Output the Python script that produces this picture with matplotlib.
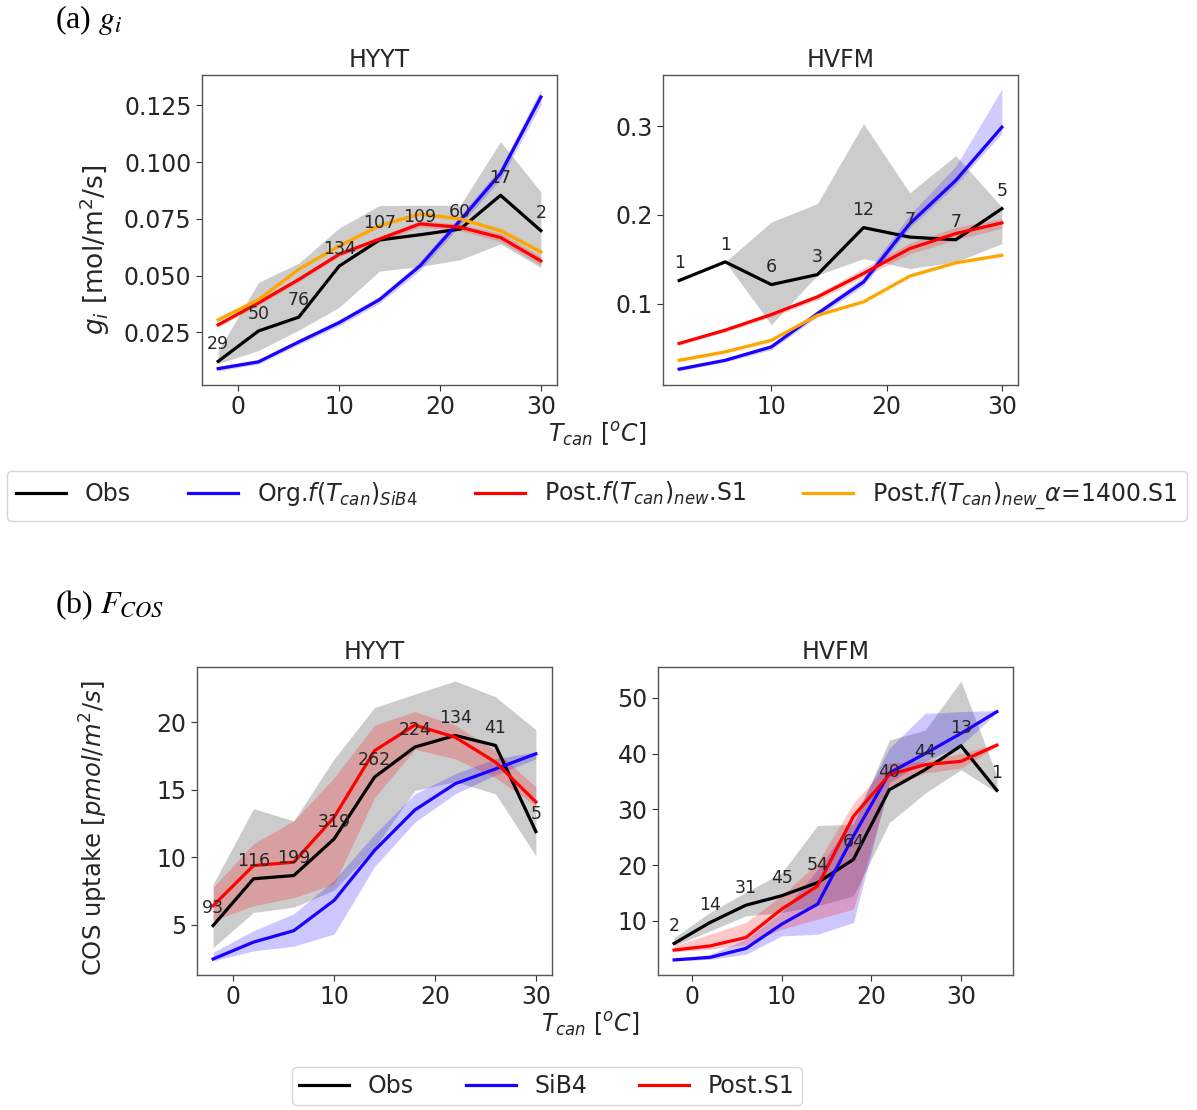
import numpy as np
import matplotlib
matplotlib.use("Agg")
import matplotlib.pyplot as plt
from matplotlib.ticker import FormatStrFormatter

nan = np.nan

# ---------------- (a) g_i ----------------
gi_hyyt_x = [-2, 2, 6, 10, 14, 18, 22, 26, 30]
gi_hyyt_obs = [0.0122, 0.0256, 0.0317, 0.0542, 0.0657, 0.0680, 0.0705, 0.0854, 0.0698]
gi_hyyt_obs_lo = [0.0112, 0.0170, 0.0260, 0.0360, 0.0520, 0.0540, 0.0570, 0.0640, 0.0535]
gi_hyyt_obs_hi = [0.0168, 0.0470, 0.0555, 0.0710, 0.0809, 0.0810, 0.0810, 0.1090, 0.0869]
gi_hyyt_org = [0.0090, 0.0120, 0.0208, 0.0293, 0.0394, 0.0542, 0.0743, 0.0950, 0.1287]
gi_hyyt_org_lo = [0.0080, 0.0110, 0.0196, 0.0279, 0.0378, 0.0522, 0.0721, 0.0925, 0.1252]
gi_hyyt_org_hi = [0.0100, 0.0130, 0.0220, 0.0307, 0.0410, 0.0562, 0.0765, 0.0975, 0.1322]
gi_hyyt_post = [0.0283, 0.0380, 0.0483, 0.0594, 0.0661, 0.0728, 0.0713, 0.0668, 0.0565]
gi_hyyt_post_lo = [0.0273, 0.0370, 0.0473, 0.0584, 0.0649, 0.0714, 0.0698, 0.0650, 0.0545]
gi_hyyt_post_hi = [0.0293, 0.0390, 0.0493, 0.0604, 0.0673, 0.0742, 0.0728, 0.0686, 0.0585]
gi_hyyt_alpha = [0.0305, 0.0394, 0.0528, 0.0631, 0.0720, 0.0772, 0.0750, 0.0698, 0.0605]
gi_hyyt_alpha_lo = [0.0297, 0.0386, 0.0520, 0.0623, 0.0711, 0.0762, 0.0740, 0.0687, 0.0593]
gi_hyyt_alpha_hi = [0.0313, 0.0402, 0.0536, 0.0639, 0.0729, 0.0782, 0.0760, 0.0709, 0.0617]
gi_hyyt_n = [29, 50, 76, 134, 107, 109, 60, 17, 2]

gi_hvfm_x = [2, 6, 10, 14, 18, 22, 26, 30]
gi_hvfm_obs = [0.126, 0.147, 0.1214, 0.1327, 0.1857, 0.175, 0.172, 0.2071]
gi_hvfm_obs_lo = [nan, 0.147, 0.0763, 0.132, 0.1508, 0.1395, 0.147, 0.1677]
gi_hvfm_obs_hi = [nan, 0.147, 0.192, 0.2128, 0.303, 0.225, 0.267, 0.209]
gi_hvfm_org = [0.026, 0.036, 0.0511, 0.0887, 0.1244, 0.190, 0.239, 0.299]
gi_hvfm_org_lo = [0.024, 0.034, 0.048, 0.085, 0.120, 0.185, 0.234, 0.292]
gi_hvfm_org_hi = [0.028, 0.038, 0.054, 0.092, 0.130, 0.200, 0.255, 0.342]
gi_hvfm_post = [0.055, 0.070, 0.0876, 0.1075, 0.134, 0.162, 0.179, 0.191]
gi_hvfm_post_lo = [0.053, 0.068, 0.085, 0.104, 0.130, 0.156, 0.172, 0.185]
gi_hvfm_post_hi = [0.057, 0.072, 0.090, 0.111, 0.140, 0.168, 0.186, 0.196]
gi_hvfm_alpha = [0.036, 0.0455, 0.0586, 0.0868, 0.102, 0.131, 0.146, 0.1545]
gi_hvfm_alpha_lo = [0.034, 0.0435, 0.0566, 0.0848, 0.100, 0.129, 0.144, 0.1525]
gi_hvfm_alpha_hi = [0.038, 0.0475, 0.0606, 0.0888, 0.104, 0.133, 0.148, 0.1565]
gi_hvfm_n = [1, 1, 6, 3, 12, 7, 7, 5]

# ---------------- (b) F_COS ----------------
cos_hyyt_x = [-2, 2, 6, 10, 14, 18, 22, 26, 30]
cos_hyyt_obs = [4.93, 8.40, 8.64, 11.36, 15.94, 18.17, 19.03, 18.29, 11.90]
cos_hyyt_obs_lo = [3.3, 5.9, 6.3, 7.55, 10.7, 14.95, 15.6, 14.7, 10.1]
cos_hyyt_obs_hi = [8.0, 13.6, 12.7, 17.3, 21.1, 22.1, 23.07, 21.9, 19.45]
cos_hyyt_sib4 = [2.45, 3.70, 4.55, 6.80, 10.5, 13.5, 15.45, 16.55, 17.67]
cos_hyyt_sib4_lo = [2.3, 3.05, 3.4, 4.3, 9.3, 12.6, 14.7, 16.1, 17.3]
cos_hyyt_sib4_hi = [2.95, 4.55, 5.8, 8.3, 11.7, 14.7, 16.2, 17.3, 17.8]
cos_hyyt_post = [6.40, 9.38, 9.63, 12.97, 17.9, 19.8, 18.9, 17.05, 14.1]
cos_hyyt_post_lo = [5.3, 6.4, 7.0, 8.0, 14.4, 18.0, 17.3, 15.9, 13.8]
cos_hyyt_post_hi = [7.77, 11.0, 12.7, 15.9, 19.8, 20.8, 19.8, 17.9, 15.2]
cos_hyyt_n = [93, 116, 199, 319, 262, 224, 134, 41, 5]

cos_hvfm_x = [-2, 2, 6, 10, 14, 18, 22, 26, 30, 34]
cos_hvfm_obs = [5.95, 9.7, 12.8, 14.5, 16.85, 21.0, 33.5, 37.1, 41.4, 33.4]
cos_hvfm_obs_lo = [5.5, 8.2, 10.9, 11.5, 12.7, 14.5, 27.6, 32.9, 37.1, 33.0]
cos_hvfm_obs_hi = [7.0, 11.5, 15.1, 18.6, 27.1, 27.3, 42.4, 44.2, 53.0, 36.0]
cos_hvfm_sib4 = [3.0, 3.45, 5.05, 9.4, 13.0, 25.2, 36.5, 40.0, 43.6, 47.5]
cos_hvfm_sib4_lo = [2.8, 3.1, 4.0, 7.3, 7.6, 9.7, 34.8, 38.6, 41.5, 47.3]
cos_hvfm_sib4_hi = [3.1, 4.0, 6.7, 11.5, 19.2, 28.45, 40.95, 47.2, 47.5, 47.7]
cos_hvfm_post = [4.76, 5.5, 7.0, 12.1, 16.25, 28.75, 36.2, 38.0, 38.6, 41.5]
cos_hvfm_post_lo = [4.46, 4.9, 5.8, 8.5, 10.3, 12.1, 34.1, 36.5, 37.4, 41.3]
cos_hvfm_post_hi = [5.5, 7.6, 9.7, 14.5, 20.4, 31.1, 38.3, 38.6, 40.0, 41.8]
cos_hvfm_n = [2, 14, 31, 45, 54, 64, 40, 44, 13, 1]

BLUE = "#1a00ff"
RED = "#ff0000"
ORANGE = "#ffa500"
TXT = "#262626"
FS = 17

plt.rcParams["font.family"] = ["DejaVu Sans"]
plt.rcParams["mathtext.fontset"] = "dejavusans"

fig = plt.figure(figsize=(11.97, 11.10), dpi=100)

W, H = 1197.0, 1110.0


def mk_ax(l, r, t, b):
    return fig.add_axes([l / W, 1 - b / H, (r - l) / W, (b - t) / H])


def style(ax, title):
    ax.set_title(title, fontsize=FS, color=TXT)
    for s in ax.spines.values():
        s.set_color("#555555")
        s.set_linewidth(1.0)
    ax.tick_params(labelsize=FS, colors="#333333", labelcolor=TXT, length=4)


def band(ax, x, lo, hi, color, alpha):
    ax.fill_between(x, lo, hi, color=color, alpha=alpha, linewidth=0)


def counts(ax, x, y, n):
    for xi, yi, ni in zip(x, y, n):
        ax.annotate(str(ni), (xi, yi), xytext=(0, 12.5), textcoords="offset points",
                    ha="center", va="center", fontsize=12.5, color=TXT)


LW = 2.3

# ---- top-left
ax1 = mk_ax(202, 557, 75, 385)
band(ax1, gi_hyyt_x, gi_hyyt_obs_lo, gi_hyyt_obs_hi, "gray", 0.4)
band(ax1, gi_hyyt_x, gi_hyyt_org_lo, gi_hyyt_org_hi, BLUE, 0.2)
band(ax1, gi_hyyt_x, gi_hyyt_post_lo, gi_hyyt_post_hi, RED, 0.2)
band(ax1, gi_hyyt_x, gi_hyyt_alpha_lo, gi_hyyt_alpha_hi, ORANGE, 0.2)
l_obs, = ax1.plot(gi_hyyt_x, gi_hyyt_obs, color="black", lw=LW, label="Obs")
l_org, = ax1.plot(gi_hyyt_x, gi_hyyt_org, color=BLUE, lw=LW, label=r"Org.$f(T_{can})_{SiB4}$")
l_post, = ax1.plot(gi_hyyt_x, gi_hyyt_post, color=RED, lw=LW, label=r"Post.$f(T_{can})_{new}$.S1")
l_alpha, = ax1.plot(gi_hyyt_x, gi_hyyt_alpha, color=ORANGE, lw=LW,
                    label=r"Post.$f(T_{can})_{new\_}\alpha$=1400.S1")
counts(ax1, gi_hyyt_x, gi_hyyt_obs, gi_hyyt_n)
ax1.set_xticks([0, 10, 20, 30])
ax1.set_yticks([0.025, 0.050, 0.075, 0.100, 0.125])
ax1.yaxis.set_major_formatter(FormatStrFormatter("%.3f"))
ax1.set_ylabel(r"$g_i$ [mol/m$^2$/s]", fontsize=19, color=TXT)
ax1.yaxis.set_label_coords(-0.254, 0.435)
style(ax1, "HYYT")

# ---- top-right
ax2 = mk_ax(663, 1018, 75, 385)
band(ax2, gi_hvfm_x, gi_hvfm_obs_lo, gi_hvfm_obs_hi, "gray", 0.4)
band(ax2, gi_hvfm_x, gi_hvfm_org_lo, gi_hvfm_org_hi, BLUE, 0.2)
band(ax2, gi_hvfm_x, gi_hvfm_post_lo, gi_hvfm_post_hi, RED, 0.2)
band(ax2, gi_hvfm_x, gi_hvfm_alpha_lo, gi_hvfm_alpha_hi, ORANGE, 0.2)
ax2.plot(gi_hvfm_x, gi_hvfm_obs, color="black", lw=LW)
ax2.plot(gi_hvfm_x, gi_hvfm_org, color=BLUE, lw=LW)
ax2.plot(gi_hvfm_x, gi_hvfm_post, color=RED, lw=LW)
ax2.plot(gi_hvfm_x, gi_hvfm_alpha, color=ORANGE, lw=LW)
counts(ax2, gi_hvfm_x, gi_hvfm_obs, gi_hvfm_n)
ax2.set_xticks([10, 20, 30])
ax2.set_yticks([0.1, 0.2, 0.3])
style(ax2, "HVFM")

fig.text(597 / W, 1 - 435 / H, r"$T_{can}$ [$^oC$]", fontsize=FS, color=TXT,
         ha="center", va="center")

fig.legend(handles=[l_obs, l_org, l_post, l_alpha], loc="center",
           bbox_to_anchor=(0.4985, 1 - 496 / H), ncol=4, fontsize=FS,
           handlelength=2.1, handletextpad=0.8, columnspacing=2.45,
           frameon=True, edgecolor="#cccccc", fancybox=True, borderpad=0.4,
           labelcolor=TXT)

fig.text(55 / W, 1 - 20 / H, r"(a) $g_i$", fontsize=23, family="Liberation Serif",
         ha="left", va="center", math_fontfamily="stix")

# ---- bottom-left
ax3 = mk_ax(197, 552, 667, 975)
band(ax3, cos_hyyt_x, cos_hyyt_obs_lo, cos_hyyt_obs_hi, "gray", 0.4)
band(ax3, cos_hyyt_x, cos_hyyt_sib4_lo, cos_hyyt_sib4_hi, BLUE, 0.22)
band(ax3, cos_hyyt_x, cos_hyyt_post_lo, cos_hyyt_post_hi, RED, 0.22)
m_obs, = ax3.plot(cos_hyyt_x, cos_hyyt_obs, color="black", lw=LW, label="Obs")
m_sib, = ax3.plot(cos_hyyt_x, cos_hyyt_sib4, color=BLUE, lw=LW, label="SiB4")
m_post, = ax3.plot(cos_hyyt_x, cos_hyyt_post, color=RED, lw=LW, label="Post.S1")
counts(ax3, cos_hyyt_x, cos_hyyt_obs, cos_hyyt_n)
ax3.set_xticks([0, 10, 20, 30])
ax3.set_yticks([5, 10, 15, 20])
ax3.set_ylabel(r"COS uptake [$pmol/m^2/s$]", fontsize=17.5, color=TXT)
ax3.yaxis.set_label_coords(-0.245, 0.477)
style(ax3, "HYYT")

# ---- bottom-right
ax4 = mk_ax(658, 1013, 667, 975)
band(ax4, cos_hvfm_x, cos_hvfm_obs_lo, cos_hvfm_obs_hi, "gray", 0.4)
band(ax4, cos_hvfm_x, cos_hvfm_sib4_lo, cos_hvfm_sib4_hi, BLUE, 0.22)
band(ax4, cos_hvfm_x, cos_hvfm_post_lo, cos_hvfm_post_hi, RED, 0.22)
ax4.plot(cos_hvfm_x, cos_hvfm_obs, color="black", lw=LW)
ax4.plot(cos_hvfm_x, cos_hvfm_sib4, color=BLUE, lw=LW)
ax4.plot(cos_hvfm_x, cos_hvfm_post, color=RED, lw=LW)
counts(ax4, cos_hvfm_x, cos_hvfm_obs, cos_hvfm_n)
ax4.set_xticks([0, 10, 20, 30])
ax4.set_yticks([10, 20, 30, 40, 50])
style(ax4, "HVFM")

fig.text(590 / W, 1 - 1025 / H, r"$T_{can}$ [$^oC$]", fontsize=FS, color=TXT,
         ha="center", va="center")

fig.legend(handles=[m_obs, m_sib, m_post], loc="center",
           bbox_to_anchor=(547 / W, 1 - 1086 / H), ncol=3, fontsize=FS,
           handlelength=2.1, handletextpad=0.8, columnspacing=2.2,
           frameon=True, edgecolor="#cccccc", fancybox=True, borderpad=0.3,
           labelcolor=TXT)

fig.text(55 / W, 1 - 605 / H, r"(b) $F_{COS}$", fontsize=23, family="Liberation Serif",
         ha="left", va="center", math_fontfamily="stix")

fig.savefig("out.png", dpi=100, facecolor="white")
